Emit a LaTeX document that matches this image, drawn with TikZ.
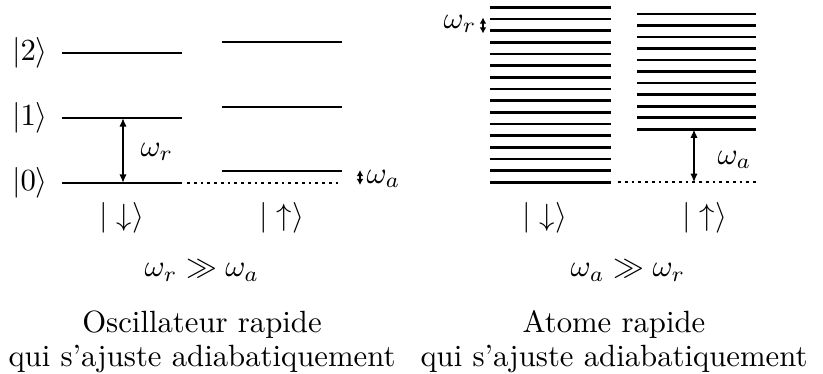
\documentclass[tikz,border=0pt]{standalone}
\usepackage{amssymb}
\usetikzlibrary{arrows.meta}
\begin{document}
\begin{tikzpicture}[x=0.3255pt,y=-0.3255pt,
  level/.style={line width=0.85pt},
  dotline/.style={line width=0.7pt,dash pattern=on 0.9pt off 1.3pt},
  gap/.style={line width=0.6pt,{Latex[length=2.8pt,width=2.4pt]}-{Latex[length=2.8pt,width=2.4pt]}},
  smallgap/.style={line width=0.6pt,{Latex[length=2pt,width=2.2pt]}-{Latex[length=2pt,width=2.2pt]}},
  txt/.style={inner sep=0pt,anchor=base}]
\useasboundingbox (0,0) rectangle (823,373);
% ---------- left panel ----------
\foreach \y/\n in {53/2,118/1,183/0}{
  \draw[level] (62,\y) -- (182,\y);
  \node[txt,anchor=center] (k\n) at (30,\y) {$|\n\rangle$};
}
\foreach \y in {42,107,171}{ \draw[level] (222,\y) -- (342,\y); }
\draw[dotline] (187,183) -- (342,183);
\coordinate (a1) at (123,118);
\coordinate (a0) at (123,183);
\draw[gap] (a1) -- (a0);
\node[anchor=west,inner sep=0pt] (wr) at (140,152) {$\omega_r$};
\coordinate (b1) at (360,170);
\coordinate (b0) at (360,185);
\draw[smallgap] (b1) -- (b0);
\node[anchor=west,inner sep=0pt] (wa) at (366,179) {$\omega_a$};
\node (dnL) at (122,218) {$|\downarrow\rangle$};
\node (upL) at (282,218) {$|\uparrow\rangle$};
\node (condL) at (202,271) {$\omega_r \gg \omega_a$};
\node[align=center,inner sep=0pt] (titL) at (202,342) {Oscillateur rapide\\[-1pt]qui s'ajuste adiabatiquement};
% ---------- right panel ----------
\foreach \i in {0,...,15}{ \draw[level] (490,{7.3+\i*11.667}) -- (611,{7.3+\i*11.667}); }
\foreach \i in {0,...,10}{ \draw[level] (637,{14+\i*11.53}) -- (756,{14+\i*11.53}); }
\draw[dotline] (618,182.3) -- (756,182.3);
\coordinate (c1) at (694,129.3);
\coordinate (c0) at (694,182.3);
\draw[gap] (c1) -- (c0);
\node[anchor=west,inner sep=0pt] (wa2) at (717,160) {$\omega_a$};
\coordinate (d1) at (483,17.5);
\coordinate (d0) at (483,33.5);
\draw[smallgap] (d1) -- (d0);
\node[anchor=east,inner sep=0pt] (wr2) at (477,24) {$\omega_r$};
\node (dnR) at (545,218) {$|\downarrow\rangle$};
\node (upR) at (705,218) {$|\uparrow\rangle$};
\node (condR) at (628,271) {$\omega_a \gg \omega_r$};
\node[align=center,inner sep=0pt] (titR) at (614,342) {Atome rapide\\[-1pt]qui s'ajuste adiabatiquement};
\end{tikzpicture}
\end{document}
